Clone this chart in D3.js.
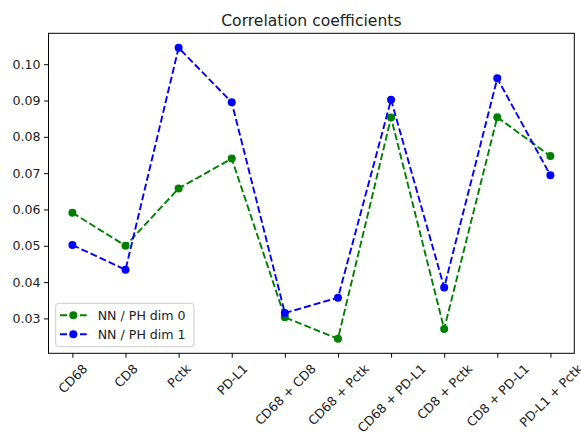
<!DOCTYPE html>
<html>
<head>
<meta charset="utf-8">
<script src="https://cdn.jsdelivr.net/npm/d3@7"></script>
<style>
  html, body { margin: 0; padding: 0; background: #fff; }
  svg { display: block; font-family: "DejaVu Sans", sans-serif; }
</style>
</head>
<body>
<svg id="chart" width="581" height="435"></svg>
<script>
// Marker pairs being compared
const categories = ["CD68", "CD8", "Pctk", "PD-L1", "CD68 + CD8", "CD68 + Pctk",
  "CD68 + PD-L1", "CD8 + Pctk", "CD8 + PD-L1", "PD-L1 + Pctk"];

// Correlation coefficients per series
const dim0Values = [0.0591, 0.0500, 0.0658, 0.0740, 0.0303, 0.0244, 0.0853, 0.0271, 0.0854, 0.0747];
const dim1Values = [0.0502, 0.0434, 0.1045, 0.0895, 0.0315, 0.0357, 0.0902, 0.0385, 0.0961, 0.0694];

const seriesNames = ["NN / PH dim 0", "NN / PH dim 1"];
const seriesColors = ["green", "blue"];

const yTicks = [0.03, 0.04, 0.05, 0.06, 0.07, 0.08, 0.09, 0.10];

const series = [dim0Values, dim1Values].map((vals, i) => ({
  name: seriesNames[i], color: seriesColors[i], values: vals
}));

const svg = d3.select("#chart");
const W = 581, H = 435;
const margin = { left: 48.5, right: 6.7, top: 33.3, bottom: 81.7 };
const plotW = W - margin.left - margin.right;
const plotH = H - margin.top - margin.bottom;

// x: index positions with 5% padding on both sides
const n = categories.length;
const xPad = (n - 1) * 0.05;
const x = d3.scaleLinear().domain([-xPad, n - 1 + xPad]).range([margin.left, margin.left + plotW]);

const allVals = dim0Values.concat(dim1Values);
const yMin = d3.min(allVals), yMax = d3.max(allVals);
const yPad = (yMax - yMin) * 0.05;
const y = d3.scaleLinear().domain([yMin - yPad, yMax + yPad]).range([margin.top + plotH, margin.top]);

const textColor = "#222";
const fontSize = 12.6;
const tickLen = 4.4, tickPad = 3.5;

// Axes
const xAxis = d3.axisBottom(x).tickValues(d3.range(n)).tickSize(tickLen).tickPadding(tickPad).tickFormat(i => categories[i]);
const yAxis = d3.axisLeft(y).tickValues(yTicks).tickSize(tickLen).tickPadding(tickPad).tickFormat(d3.format(".2f"));

const gx = svg.append("g").attr("transform", `translate(0,${margin.top + plotH})`).call(xAxis);
const gy = svg.append("g").attr("transform", `translate(${margin.left},0)`).call(yAxis);

[gx, gy].forEach(g => {
  g.select(".domain").remove();
  g.selectAll(".tick line").attr("stroke", "#000").attr("stroke-width", 1);
  g.selectAll(".tick text").attr("fill", textColor).attr("font-size", fontSize)
    .attr("font-family", "DejaVu Sans");
});

// Rotate x tick labels by 45 degrees, keeping their bounding box centered under the tick
gx.selectAll(".tick text").each(function () {
  const t = d3.select(this);
  const w = this.getComputedTextLength();
  const fh = fontSize * 1.17;
  const s = Math.SQRT1_2;
  const bh = w * s + fh * s;
  const cy = tickLen + tickPad + bh / 2;
  t.attr("text-anchor", "middle").attr("dy", null).attr("y", null)
    .attr("dominant-baseline", "central")
    .attr("transform", `translate(0,${cy}) rotate(-45)`);
});

// Plot frame
svg.append("rect")
  .attr("x", margin.left).attr("y", margin.top)
  .attr("width", plotW).attr("height", plotH)
  .attr("fill", "none").attr("stroke", "#000").attr("stroke-width", 1);

// Lines and markers
const line = d3.line().x((d, i) => x(i)).y(d => y(d));
series.forEach(s => {
  svg.append("path").datum(s.values)
    .attr("d", line).attr("fill", "none")
    .attr("stroke", s.color).attr("stroke-width", 1.9)
    .attr("stroke-dasharray", "7,3");
  svg.append("g").selectAll("circle").data(s.values).join("circle")
    .attr("cx", (d, i) => x(i)).attr("cy", d => y(d))
    .attr("r", 4).attr("fill", s.color);
});

// Title
svg.append("text")
  .attr("x", margin.left + plotW / 2).attr("y", 25.5)
  .attr("text-anchor", "middle").attr("font-size", 15.6)
  .attr("fill", textColor).text("Correlation coefficients");

// Legend, lower left
const lg = svg.append("g").attr("transform", `translate(${margin.left + 7.2},${margin.top + plotH - 50})`);
lg.append("rect").attr("x", 0).attr("y", 0).attr("width", 138.3).attr("height", 43.4)
  .attr("rx", 3).attr("fill", "#fff").attr("fill-opacity", 0.8)
  .attr("stroke", "#ccc").attr("stroke-width", 1);
series.forEach((s, i) => {
  const ry = 12 + i * 19;
  lg.append("line").attr("x1", 4.3).attr("x2", 31).attr("y1", ry).attr("y2", ry)
    .attr("stroke", s.color).attr("stroke-width", 1.9).attr("stroke-dasharray", "7,3");
  lg.append("circle").attr("cx", 17.6).attr("cy", ry).attr("r", 4).attr("fill", s.color);
  lg.append("text").attr("x", 42).attr("y", ry).attr("dominant-baseline", "central")
    .attr("font-size", fontSize).attr("fill", textColor).text(s.name);
});
</script>
</body>
</html>
